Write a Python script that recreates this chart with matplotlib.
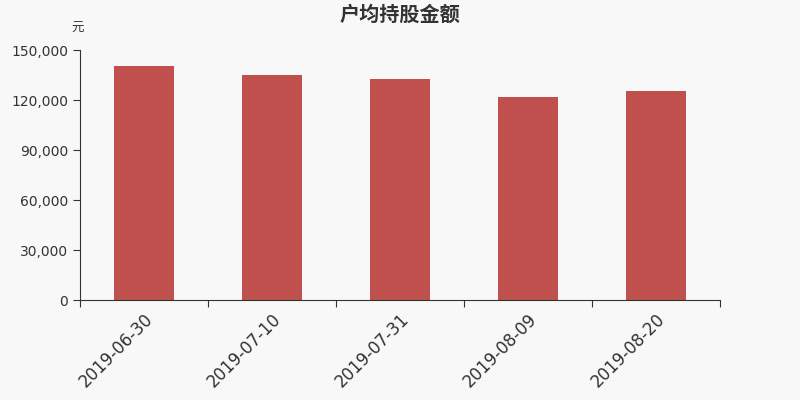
import matplotlib
matplotlib.use("Agg")
import matplotlib.pyplot as plt
from matplotlib.ticker import FuncFormatter
import numpy as np

plt.rcParams['font.family'] = ['DejaVu Sans', 'Noto Sans CJK SC']

# 数据
dates = ["2019-06-30", "2019-07-10", "2019-07-31", "2019-08-09", "2019-08-20"]
amounts = [140400, 135300, 132600, 121800, 125400]
y_ticks = [0, 30000, 60000, 90000, 120000, 150000]

bg = "#f8f8f8"
fig = plt.figure(figsize=(8, 4), dpi=100, facecolor=bg)
ax = fig.add_axes([0.1, 0.25, 0.8, 0.625], facecolor=bg)

x = np.arange(len(dates))
ax.bar(x, amounts, width=0.47, color="#c0504d")

ax.set_xlim(-0.5, len(dates) - 0.5)
ax.set_ylim(0, 150000)
ax.set_yticks(y_ticks)
ax.yaxis.set_major_formatter(FuncFormatter(lambda v, p: f"{int(v):,}"))

# 刻度在类别边界
ax.set_xticks(np.arange(len(dates) + 1) - 0.5)
ax.set_xticklabels([])
ax.set_xticks(x, minor=True)
ax.set_xticklabels(dates, minor=True, rotation=45, ha="right", rotation_mode="anchor",
                   fontsize=12, color="#333333")
ax.tick_params(axis="x", which="minor", length=0, pad=7)
ax.tick_params(axis="x", which="major", length=5, color="#333333")
ax.tick_params(axis="y", length=5, color="#333333", labelsize=10, labelcolor="#333333")

for s in ["top", "right"]:
    ax.spines[s].set_visible(False)
for s in ["left", "bottom"]:
    ax.spines[s].set_color("#333333")

fig.text(0.5, 0.965, "户均持股金额", ha="center", va="center", fontsize=14.5,
         fontweight="bold", color="#333333", family=["Noto Sans CJK SC", "DejaVu Sans"])
fig.text(0.0975, 0.928, "元", ha="center", va="center", fontsize=9,
         color="#333333", family=["Noto Sans CJK SC", "DejaVu Sans"])

fig.savefig("out.png", dpi=100, facecolor=bg)
